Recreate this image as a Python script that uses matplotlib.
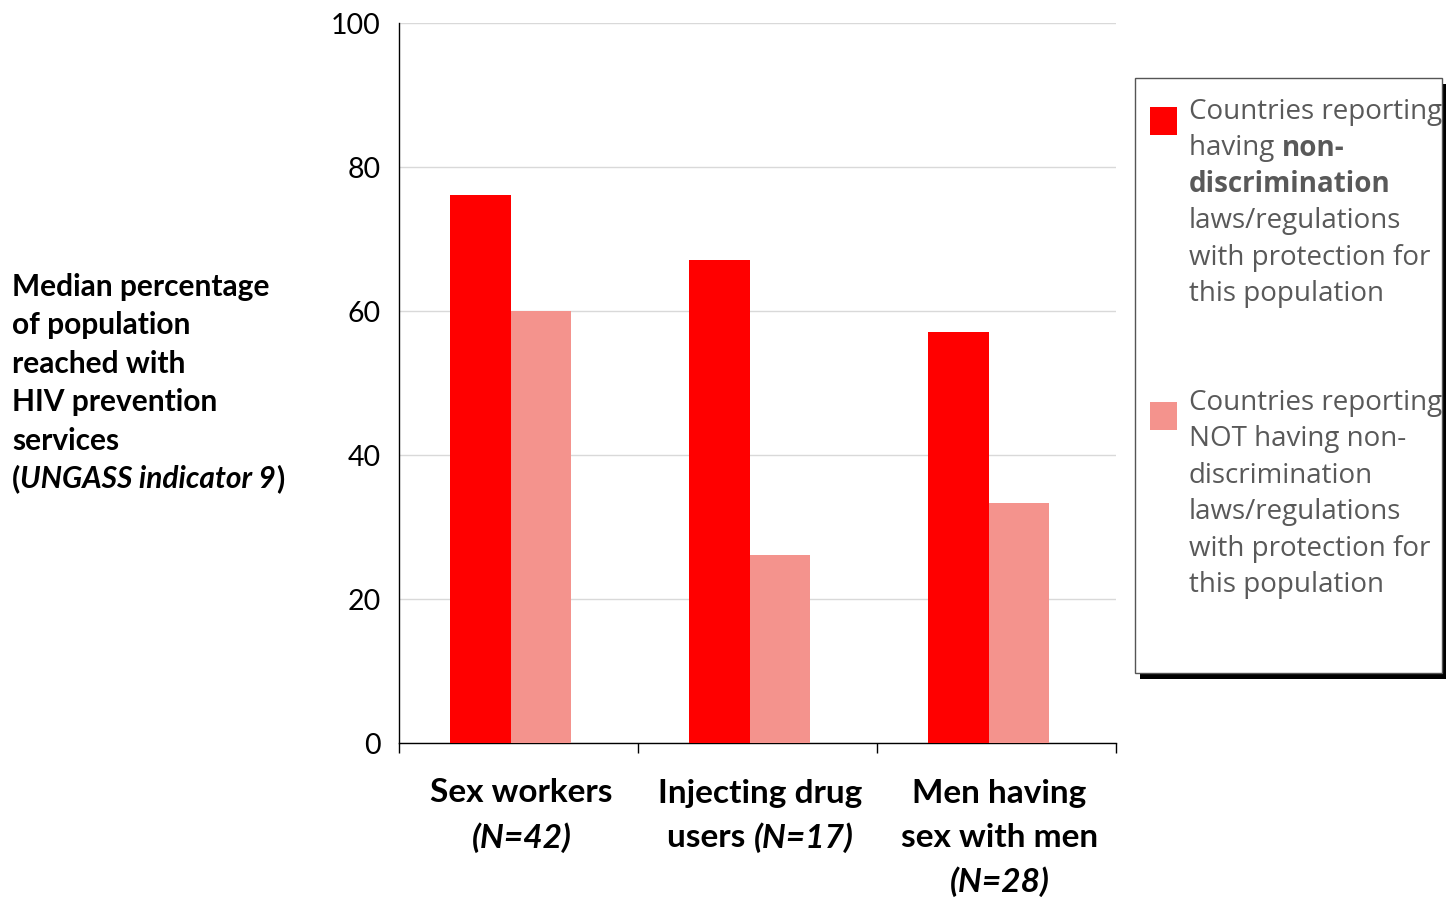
import matplotlib
matplotlib.use("Agg")
import matplotlib.pyplot as plt
from matplotlib.patches import Rectangle
import numpy as np

# data
populations = ["Sex workers", "Injecting drug users", "Men having sex with men"]
sample_sizes = [42, 17, 28]
with_laws = [76.1, 67.1, 57.1]
without_laws = [60.0, 26.1, 33.3]
y_ticks = [0, 20, 40, 60, 80, 100]

RED = "#ff0000"
PINK = "#f4938d"
GREY_TEXT = "#595959"

W, H = 1446, 899
fig = plt.figure(figsize=(W / 100, H / 100), dpi=100)


def fx(px):
  return px / W


def fy(py):
  return 1 - py / H


ax = fig.add_axes([fx(399), fy(743), (1116 - 399) / W, (743 - 23) / H])
x = np.arange(len(populations))
shift = -0.033
width = 0.253
ax.bar(x + shift - width / 2, with_laws, width, color=RED, zorder=3)
ax.bar(x + shift + width / 2, without_laws, width, color=PINK, zorder=3)
ax.set_xlim(-0.5, len(populations) - 0.5)
ax.set_ylim(0, 100)
ax.set_yticks(y_ticks)
ax.set_yticklabels([str(t) for t in y_ticks], fontsize=20.5, family="Lato")
ax.tick_params(axis="y", length=0, pad=13)
ax.set_xticks(np.arange(len(populations) + 1) - 0.5)
ax.set_xticklabels([])
ax.tick_params(axis="x", length=7, width=1, direction="out")
ax.grid(axis="y", color="#d9d9d9", linewidth=1)
ax.set_axisbelow(True)
for s in ["top", "right"]:
  ax.spines[s].set_visible(False)
ax.spines["left"].set_linewidth(1)
ax.spines["bottom"].set_linewidth(1)

renderer = fig.canvas.get_renderer()


def mixed_line(px, py, parts, size, family, color, ha="center", clip=None):
  """draw one line made of differently styled pieces, in pixel coords"""
  texts = []
  for s, weight, style in parts:
    t = fig.text(0, 0, s, fontsize=size, family=family, weight=weight,
                 style=style, color=color, va="center", ha="left")
    if clip is not None:
      t.set_clip_path(clip)
    texts.append(t)
  widths = [t.get_window_extent(renderer).width for t in texts]
  start = px - sum(widths) / 2 if ha == "center" else px
  for t, w in zip(texts, widths):
    t.set_position((fx(start), fy(py)))
    start += w
  return texts


# y axis title
ylabel_lines = [
  [("Median percentage", "bold", "normal")],
  [("of population", "bold", "normal")],
  [("reached with", "bold", "normal")],
  [("HIV prevention", "bold", "normal")],
  [("services", "bold", "normal")],
  [("(", "bold", "normal"), ("UNGASS indicator 9", "bold", "italic"), (")", "bold", "normal")],
]
for i, parts in enumerate(ylabel_lines):
  mixed_line(12, 287 + i * 38.4, parts, 21.5, "Lato", "black", ha="left")

# category labels
cat_lines = [
  [[("Sex workers", "bold", "normal")], [("(N=%d)" % sample_sizes[0], "bold", "italic")]],
  [[("Injecting drug", "bold", "normal")],
   [("users ", "bold", "normal"), ("(N=%d)" % sample_sizes[1], "bold", "italic")]],
  [[("Men having", "bold", "normal")], [("sex with men", "bold", "normal")],
   [("(N=%d)" % sample_sizes[2], "bold", "italic")]],
]
for i, lines in enumerate(cat_lines):
  cx = ax.transData.transform((x[i], 0))[0]
  for j, parts in enumerate(lines):
    mixed_line(cx + 3, 793 + j * 44.5, parts, 24, "Lato", "black")

# legend box with shadow
shadow = Rectangle((fx(1140), fy(679)), (1446 - 1140) / W, (679 - 84) / H,
                   transform=fig.transFigure, facecolor="black", edgecolor="none")
box = Rectangle((fx(1135), fy(673)), (1442 - 1135) / W, (673 - 78) / H,
                transform=fig.transFigure, facecolor="white", edgecolor="#555555",
                linewidth=1)
fig.add_artist(shadow)
fig.add_artist(box)

legend_entries = [
  (RED, 121, [
    [("Countries reporting", "normal", "normal")],
    [("having ", "normal", "normal"), ("non-", "bold", "normal")],
    [("discrimination", "bold", "normal")],
    [("laws/regulations", "normal", "normal")],
    [("with protection for", "normal", "normal")],
    [("this population", "normal", "normal")],
  ], 112),
  (PINK, 416, [
    [("Countries reporting", "normal", "normal")],
    [("NOT having non-", "normal", "normal")],
    [("discrimination", "normal", "normal")],
    [("laws/regulations", "normal", "normal")],
    [("with protection for", "normal", "normal")],
    [("this population", "normal", "normal")],
  ], 403),
]
for color, my, lines, ty in legend_entries:
  fig.add_artist(Rectangle((fx(1150), fy(my + 14)), 27 / W, 28 / H,
                           transform=fig.transFigure, facecolor=color, edgecolor="none"))
  for j, parts in enumerate(lines):
    mixed_line(1189, ty + j * 36.4, parts, 20, "Open Sans", GREY_TEXT, ha="left", clip=box)

fig.savefig("out.png", dpi=100)
